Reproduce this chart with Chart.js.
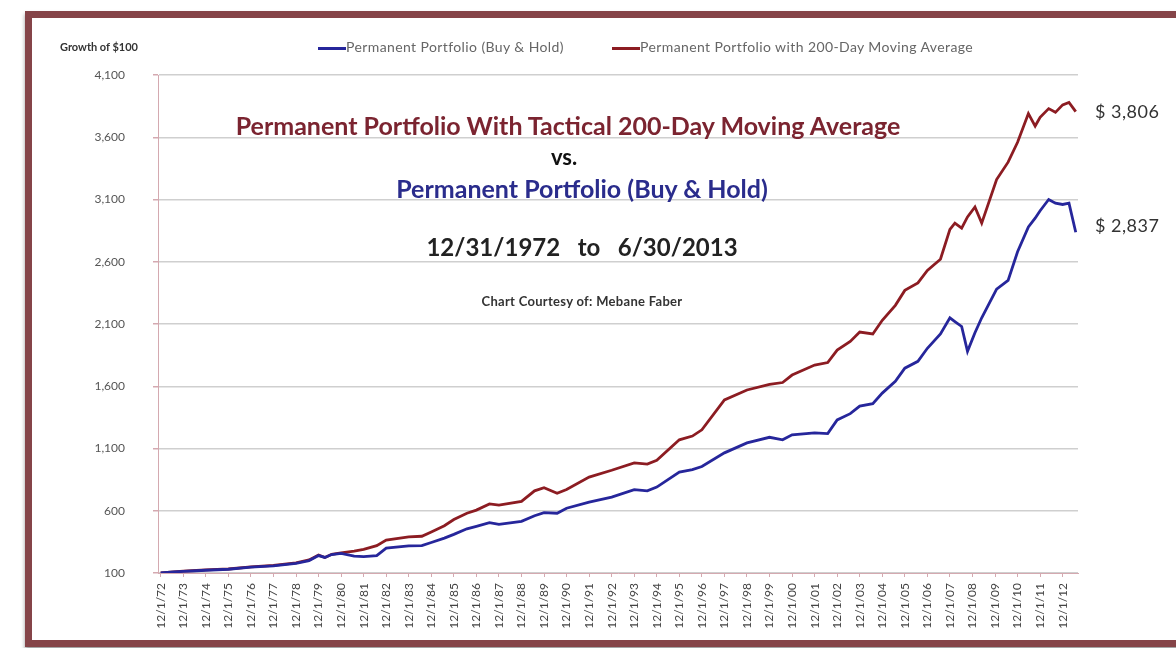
<!DOCTYPE html>
<html>
<head>
<meta charset="utf-8">
<script src="https://cdn.jsdelivr.net/npm/chart.js@4"></script>
<style>
  html, body { margin: 0; padding: 0; background: #fff; }
  #wrap { position: relative; width: 1176px; height: 648px; overflow: hidden; font-family: Lato, "Open Sans", sans-serif; }
  #frame {
    position: absolute; left: 25px; top: 11px; width: 1200px; height: 622px;
    border: 7px solid #854448; border-right: none;
    box-shadow: 0 3px 4px #999;
    background: #fff;
  }
  canvas { position: absolute; left: 0; top: 0; }
  .t { position: absolute; white-space: nowrap; transform: translate(-50%, -50%); font-weight: bold; }
  .lbl { position: absolute; white-space: nowrap; }
</style>
</head>
<body>
<div id="wrap">
  <div id="frame"></div>
  <canvas id="chart" width="1176" height="648"></canvas>

  <div class="lbl" style="left:60px; top:40px; font-size:11px; font-weight:bold; color:#333;">Growth of $100</div>

  <div class="lbl" style="left:318px; top:38px; font-size:14px; color:#666; letter-spacing:0.4px;">
    <span style="display:inline-block; width:28px; height:3px; background:#26269b; vertical-align:middle;"></span>Permanent Portfolio (Buy &amp; Hold)
  </div>
  <div class="lbl" style="left:612px; top:38px; font-size:14px; color:#666; letter-spacing:0.4px;">
    <span style="display:inline-block; width:28px; height:3px; background:#8c1c22; vertical-align:middle;"></span>Permanent Portfolio with 200-Day Moving Average
  </div>

  <div class="t" style="left:568px; top:125px; font-size:25px; color:#7b2430;">Permanent Portfolio With Tactical 200-Day Moving Average</div>
  <div class="t" style="left:564px; top:156px; font-size:22px; color:#111;">vs.</div>
  <div class="t" style="left:582px; top:188px; font-size:25px; color:#2a2c8c;">Permanent Portfolio (Buy &amp; Hold)</div>
  <div class="t" style="left:582px; top:246px; font-size:24px; color:#222;">12/31/1972&nbsp;&nbsp;&nbsp;to&nbsp;&nbsp;&nbsp;6/30/2013</div>
  <div class="t" style="left:582px; top:301px; font-size:13px; color:#333; letter-spacing:0.3px;">Chart Courtesy of: Mebane Faber</div>

  <div class="lbl" style="left:1095px; top:100px; font-size:18px; color:#333; letter-spacing:0.5px;">$ 3,806</div>
  <div class="lbl" style="left:1095px; top:214px; font-size:18px; color:#333; letter-spacing:0.5px;">$ 2,837</div>
</div>

<script>
// decimal year of each reading
const years = [
  1972.92, 1973.5, 1973.92, 1974.5, 1974.92, 1975.92, 1976.92, 1977.92, 1978.92, 1979.5,
  1979.92, 1980.2, 1980.5, 1980.92, 1981.5, 1981.92, 1982.5, 1982.92, 1983.92, 1984.5,
  1984.92, 1985.5, 1985.92, 1986.5, 1986.92, 1987.5, 1987.92, 1988.92, 1989.5, 1989.92,
  1990.5, 1990.92, 1991.92, 1992.92, 1993.92, 1994.5, 1994.92, 1995.92, 1996.5, 1996.92,
  1997.92, 1998.92, 1999.92, 2000.5, 2000.92, 2001.92, 2002.5, 2002.92, 2003.5, 2003.92,
  2004.5, 2004.92, 2005.5, 2005.92, 2006.5, 2006.92, 2007.5, 2007.92, 2008.14, 2008.44,
  2008.7, 2009.03, 2009.33, 2009.99, 2010.5, 2010.92, 2011.4, 2011.7, 2011.92, 2012.3,
  2012.6, 2012.92, 2013.2, 2013.5
];

const movingAvg = [
  100, 108, 115, 120, 125, 132, 150, 162, 182, 205,
  245, 225, 250, 262, 275, 290, 320, 365, 390, 395,
  430, 480, 530, 580, 605, 655, 645, 675, 760, 785,
  740, 770, 870, 925, 985, 975, 1005, 1170, 1200, 1250,
  1490, 1570, 1615, 1630, 1690, 1770, 1790, 1890, 1960, 2035,
  2020, 2130, 2250, 2370, 2430, 2530, 2620, 2860, 2910, 2870,
  2960, 3040, 2910, 3260, 3400, 3560, 3790, 3690, 3760, 3830,
  3800, 3860, 3880, 3806
];

const buyHold = [
  100, 108, 113, 118, 122, 130, 148, 158, 178, 200,
  240, 225, 248, 258, 235, 232, 240, 300, 318, 320,
  345, 380, 410, 455, 475, 505, 490, 515, 560, 585,
  580, 620, 670, 710, 770, 760, 790, 910, 930, 955,
  1065, 1145, 1190, 1170, 1210, 1225, 1220, 1330, 1380, 1440,
  1460, 1545, 1640, 1745, 1800, 1905, 2020, 2150, 2120, 2080,
  1880, 2030, 2150, 2380, 2450, 2680, 2880, 2950, 3010, 3100,
  3070, 3060, 3070, 2837
];

// x-axis labels sit on 12/1 of each year
const tickYears = [];
for (let y = 1972; y <= 2012; y++) tickYears.push(y);

const toPoints = (arr) => arr.map((v, i) => ({ x: years[i], y: v }));

const ctx = document.getElementById("chart").getContext("2d");

new Chart(ctx, {
  type: "line",
  data: {
    datasets: [
      {
        label: "Permanent Portfolio (Buy & Hold)",
        data: toPoints(buyHold),
        borderColor: "#26269b",
        borderWidth: 2.8,
        pointRadius: 0,
        tension: 0,
      },
      {
        label: "Permanent Portfolio with 200-Day Moving Average",
        data: toPoints(movingAvg),
        borderColor: "#8c1c22",
        borderWidth: 2.8,
        pointRadius: 0,
        tension: 0,
      },
    ],
  },
  options: {
    responsive: false,
    animation: false,
    layout: { padding: { top: 75, right: 98, left: 0, bottom: 0 } },
    plugins: { legend: { display: false }, tooltip: { enabled: false } },
    scales: {
      x: {
        type: "linear",
        min: 1972.8,
        max: 2013.6,
        afterFit: (scale) => { scale.height = 75; },
        afterBuildTicks: (scale) => {
          scale.ticks = tickYears.map((y) => ({ value: y + 0.92 }));
        },
        grid: {
          drawOnChartArea: false,
          tickLength: 4,
          color: "#d4a9b0",
        },
        border: { color: "#d4a9b0" },
        ticks: {
          autoSkip: false,
          minRotation: 90,
          maxRotation: 90,
          padding: 6,
          color: "#444",
          font: { family: "Lato", size: 12 },
          callback: (v) => "12/1/" + String(Math.round(v - 0.92)).slice(2),
        },
      },
      y: {
        min: 100,
        max: 4100,
        afterFit: (scale) => { scale.width = 158; },
        grid: {
          color: "#cfcfcf",
          lineWidth: 1.5,
          tickLength: 5,
          tickColor: "#d4a9b0",
        },
        border: { color: "#d4a9b0" },
        ticks: {
          stepSize: 500,
          padding: 28,
          color: "#555",
          font: { family: "Lato", size: 12 },
          callback: (v) => v.toLocaleString("en-US"),
        },
      },
    },
  },
});
</script>
</body>
</html>
